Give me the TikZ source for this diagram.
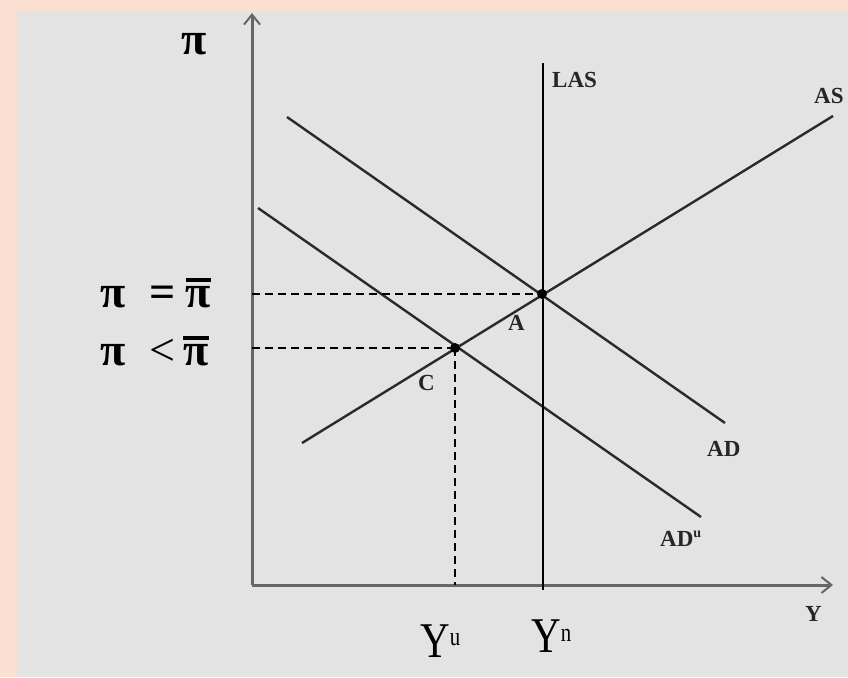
\documentclass[tikz,border=0pt]{standalone}
\usepackage{fontspec}
\usepackage{graphicx}
\setmainfont{Liberation Serif}
\usetikzlibrary{arrows.meta}
\definecolor{peach}{HTML}{FBE0D1}
\definecolor{panel}{HTML}{E3E3E3}
\definecolor{axisgray}{HTML}{666666}
\definecolor{curve}{HTML}{2A2A2A}
\newcommand{\pibarx}{\vbox{\hrule height 3.5pt\kern 4pt\hbox{π}}}
\newcommand{\bigY}[2]{\scalebox{0.82}[1]{Y}\raisebox{#2}{\fontsize{26}{26}\selectfont\scalebox{0.8}[1]{#1}}}
\tikzset{
  axisline/.style={draw=axisgray, line width=3pt, -{Straight Barb[length=10pt,width=16pt,line width=2pt]}},
  curveline/.style={draw=curve, line width=2.4pt},
  lasline/.style={draw=black, line width=2.8pt},
  dashline/.style={draw=black, line width=2.3pt, dash pattern=on 8pt off 5pt},
  eqdot/.style={circle, fill=black, inner sep=0pt, minimum size=10pt},
  small/.style={font=\fontsize{23}{23}\selectfont\bfseries, inner sep=0pt, anchor=base west, text=black!85},
  big/.style={font=\fontsize{46}{46}\selectfont, inner sep=0pt, anchor=base},
}
\begin{document}
\begin{tikzpicture}[x=1pt,y=-1pt]
  \useasboundingbox (0,0) rectangle (848,677);
  \fill[peach] (0,0) rectangle (848,677);
  \fill[panel] (17,11) rectangle (848,677);
  % axes
  \coordinate (O) at (252,585);
  \coordinate (ytop) at (252,13);
  \coordinate (xend) at (833,585);
  \draw[axisline] (O) -- (ytop);
  \draw[axisline] (O) -- (xend);
  % curves
  \coordinate (las1) at (543,63);
  \coordinate (las2) at (543,590);
  \coordinate (as1) at (302,443);
  \coordinate (as2) at (833,116);
  \coordinate (ad1) at (287,117);
  \coordinate (ad2) at (725,423);
  \coordinate (adu1) at (258,208);
  \coordinate (adu2) at (701,517);
  \draw[curveline] (as1) -- (as2);
  \draw[curveline] (ad1) -- (ad2);
  \draw[curveline] (adu1) -- (adu2);
  \draw[lasline] (las1) -- (las2);
  % equilibrium points
  \node[eqdot] (A) at (542,294) {};
  \node[eqdot] (C) at (455,348) {};
  \coordinate (yA) at (252,294);
  \coordinate (yC) at (252,348);
  \coordinate (xC) at (455,585);
  \draw[dashline] (yA) -- (A.center);
  \draw[dashline] (yC) -- (C.center);
  \draw[dashline] (C.center) -- (xC);
  % labels
  \node[big, font=\fontsize{46}{46}\selectfont\bfseries] (pi) at (194,55) {π};
  \node[big, anchor=base west] (pieq) at (100,307) {\textbf{π}\hspace{24pt}\textbf{=}\hspace{10pt}\textbf{\pibarx}};
  \node[big, anchor=base west] (pilt) at (100,365) {\textbf{π}\hspace{24pt}<\hspace{8pt}\textbf{\pibarx}};
  \node[small] (lLAS) at (552,87) {LAS};
  \node[small] (lAS) at (814,103) {AS};
  \node[small] (lAD) at (707,456) {AD};
  \node[small] (lADu) at (660,546) {AD\raisebox{9pt}{\fontsize{14}{14}\selectfont u}};
  \node[small] (lY) at (805,621) {Y};
  \node[small] (lA) at (508,330) {A};
  \node[small] (lC) at (418,390) {C};
  \node[big, font=\fontsize{50}{50}\selectfont, anchor=base west] (Yu) at (420,657) {\bigY{u}{12pt}};
  \node[big, font=\fontsize{50}{50}\selectfont, anchor=base west] (Yn) at (531,652) {\bigY{n}{11pt}};
\end{tikzpicture}
\end{document}
